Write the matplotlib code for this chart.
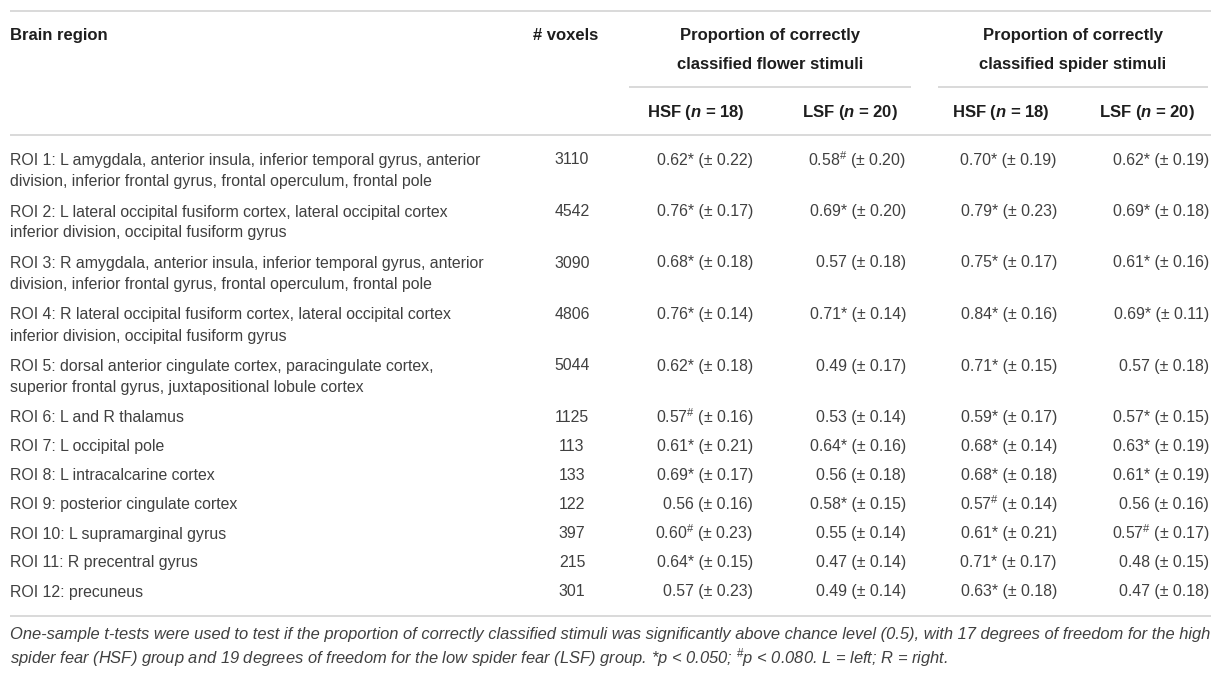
import matplotlib
matplotlib.use('Agg')
import matplotlib.pyplot as plt

# Table data
regions = [
    'ROI 1: L amygdala, anterior insula, inferior temporal gyrus, anterior\ndivision, inferior frontal gyrus, frontal operculum, frontal pole',
    'ROI 2: L lateral occipital fusiform cortex, lateral occipital cortex\ninferior division, occipital fusiform gyrus',
    'ROI 3: R amygdala, anterior insula, inferior temporal gyrus, anterior\ndivision, inferior frontal gyrus, frontal operculum, frontal pole',
    'ROI 4: R lateral occipital fusiform cortex, lateral occipital cortex\ninferior division, occipital fusiform gyrus',
    'ROI 5: dorsal anterior cingulate cortex, paracingulate cortex,\nsuperior frontal gyrus, juxtapositional lobule cortex',
    'ROI 6: L and R thalamus',
    'ROI 7: L occipital pole',
    'ROI 8: L intracalcarine cortex',
    'ROI 9: posterior cingulate cortex',
    'ROI 10: L supramarginal gyrus',
    'ROI 11: R precentral gyrus',
    'ROI 12: precuneus',
]
voxels = [3110, 4542, 3090, 4806, 5044, 1125, 113, 133, 122, 397, 215, 301]

flower_hsf = [0.62, 0.76, 0.68, 0.76, 0.62, 0.57, 0.61, 0.69, 0.56, 0.60, 0.64, 0.57]
flower_hsf_sd = [0.22, 0.17, 0.18, 0.14, 0.18, 0.16, 0.21, 0.17, 0.16, 0.23, 0.15, 0.23]
flower_hsf_sig = ['*', '*', '*', '*', '*', '#', '*', '*', '', '#', '*', '']

flower_lsf = [0.58, 0.69, 0.57, 0.71, 0.49, 0.53, 0.64, 0.56, 0.58, 0.55, 0.47, 0.49]
flower_lsf_sd = [0.20, 0.20, 0.18, 0.14, 0.17, 0.14, 0.16, 0.18, 0.15, 0.14, 0.14, 0.14]
flower_lsf_sig = ['#', '*', '', '*', '', '', '*', '', '*', '', '', '']

spider_hsf = [0.70, 0.79, 0.75, 0.84, 0.71, 0.59, 0.68, 0.68, 0.57, 0.61, 0.71, 0.63]
spider_hsf_sd = [0.19, 0.23, 0.17, 0.16, 0.15, 0.17, 0.14, 0.18, 0.14, 0.21, 0.17, 0.18]
spider_hsf_sig = ['*', '*', '*', '*', '*', '*', '*', '*', '#', '*', '*', '*']

spider_lsf = [0.62, 0.69, 0.61, 0.69, 0.57, 0.57, 0.63, 0.61, 0.56, 0.57, 0.48, 0.47]
spider_lsf_sd = [0.19, 0.18, 0.16, 0.11, 0.18, 0.15, 0.19, 0.19, 0.16, 0.17, 0.15, 0.18]
spider_lsf_sig = ['*', '*', '*', '*', '', '*', '*', '*', '', '#', '', '']

group_titles = ['Proportion of correctly\nclassified flower stimuli',
                'Proportion of correctly\nclassified spider stimuli']
sub_headers = ['HSF', 18, 'LSF', 20]
footnote = ['One-sample t-tests were used to test if the proportion of correctly classified stimuli was '
            'significantly above chance level (0.5), with 17 degrees of freedom for the high',
            'spider fear (HSF) group and 19 degrees of freedom for the low spider fear (LSF) group. '
            '*p < 0.050; $^{\\#}$p < 0.080. L = left; R = right.']

plt.rcParams['font.family'] = 'Liberation Sans'
plt.rcParams['mathtext.fontset'] = 'custom'
plt.rcParams['mathtext.rm'] = 'Liberation Sans'
plt.rcParams['mathtext.it'] = 'Liberation Sans:italic'
plt.rcParams['mathtext.bf'] = 'Liberation Sans:bold'
plt.rcParams['mathtext.bfit'] = 'Liberation Sans:bold:italic'

W, H = 1221, 676
fig = plt.figure(figsize=(W / 100, H / 100), dpi=100)
ax = fig.add_axes([0, 0, 1, 1])
ax.set_xlim(0, W)
ax.set_ylim(H, 0)
ax.axis('off')

body_col = '#404040'
head_col = '#1e1e1e'
rule_col = '#cfcfcf'
fs = 11.4
fs_head = 12
fs_note = 11.9


def rule(x0, x1, y):
    ax.plot([x0, x1], [y, y], color=rule_col, lw=1.1, solid_capstyle='butt')


def cell(v, sd, sig):
    s = f'{v:.2f}'
    if sig == '#':
        s += r'$^{\#}$'
    elif sig == '*':
        s += '*'
    return s + f' (± {sd:.2f})'


# header
rule(10, 1211, 11)
ax.text(10, 40, 'Brain region', fontsize=fs_head, fontweight='bold', color=head_col, va='baseline')
ax.text(598, 40, '# voxels', fontsize=fs_head, fontweight='bold', color=head_col, va='baseline', ha='right')
group_spans = [(629, 911), (938, 1208)]
for (x0, x1), t in zip(group_spans, group_titles):
    ax.text((x0 + x1) / 2, 50, t, fontsize=fs_head, fontweight='bold', color=head_col,
            ha='center', va='center', linespacing=2.1)
    rule(x0, x1, 87)

col_right = [753, 906, 1057, 1209]
col_center = [696, 850, 1001, 1147]
for i, xc in enumerate(col_center):
    lab, n = sub_headers[(i % 2) * 2], sub_headers[(i % 2) * 2 + 1]
    ax.text(xc, 112, lab + r' ($\mathbfit{n}$ = ' + str(n) + ')', fontsize=fs_head, fontweight='bold',
            color=head_col, ha='center', va='center')
rule(10, 1211, 135)

# body rows
columns = [(flower_hsf, flower_hsf_sd, flower_hsf_sig),
           (flower_lsf, flower_lsf_sd, flower_lsf_sig),
           (spider_hsf, spider_hsf_sd, spider_hsf_sig),
           (spider_lsf, spider_lsf_sd, spider_lsf_sig)]
y = 160
for i, name in enumerate(regions):
    nl = name.count('\n') + 1
    ax.text(10, y - 7, name, fontsize=fs, color=body_col, va='top', linespacing=1.5)
    ax.text(572, y, str(voxels[i]), fontsize=fs, color=body_col, ha='center', va='center')
    for (vals, sds, sigs), xr in zip(columns, col_right):
        ax.text(xr, y, cell(vals[i], sds[i], sigs[i]), fontsize=fs, color=body_col,
                ha='right', va='center')
    y += 29 + 22.5 * (nl - 1)

rule(10, 1211, 616)
for k, line in enumerate(footnote):
    ax.text(10, 635 + 23 * k, line, fontsize=fs_note, style='italic', color=body_col, va='center')

fig.savefig('out.png', dpi=100, facecolor='white')
